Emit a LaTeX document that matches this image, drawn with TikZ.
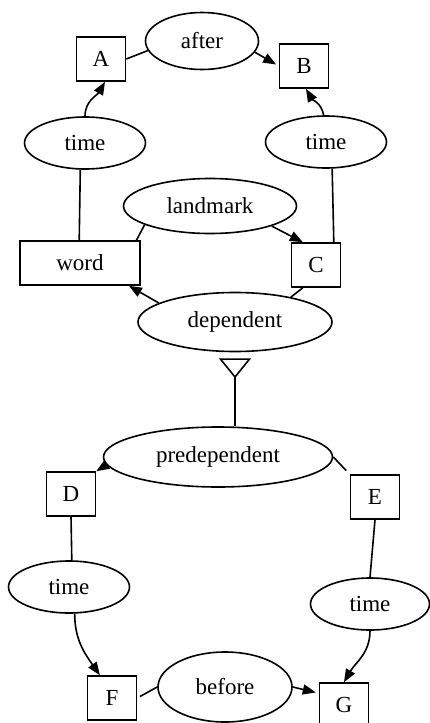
\documentclass[tikz,border=0pt]{standalone}
\usepackage{fontspec}
\setmainfont{Liberation Serif}
\usetikzlibrary{shapes.geometric,arrows.meta}

\begin{document}
\begin{tikzpicture}[x=1pt, y=1pt, line width=1.6pt,
    every node/.style={font=\fontsize{23}{27}\selectfont},
    box/.style={draw, rectangle, inner sep=0pt, minimum width=49pt, minimum height=44pt},
    ell/.style={draw, ellipse, inner sep=0pt, minimum width=121pt, minimum height=52pt},
    arr/.style={-{Triangle[length=13pt, width=10pt]}},
    isa/.style={-{Triangle[open, reversed, length=20pt, width=32pt]}, shorten >=6pt}]

    \useasboundingbox (0,0) rectangle (430,-723);

% upper part

    \node[box] (A) at (101,-59) {A};
    \node[ell, minimum width=113pt, minimum height=57pt] (after) at (202,-41) {after};
    \node[box] (B) at (304,-66) {B};
    \node[ell] (timeA) at (85,-143) {time};
    \node[ell] (timeB) at (326,-142) {time};
    \node[ell, minimum width=173pt, minimum height=55pt] (landmark) at (210,-206) {landmark};
    \node[box, minimum width=120pt] (word) at (80,-263) {word};
    \node[box] (C) at (316,-265) {C};
    \node[ell, minimum width=194pt, minimum height=59pt] (dep) at (235,-322) {dependent};

    \draw (A.east) -- (after.190);
    \draw[arr, shorten >=3pt] (after.-12) -- (B.west);
    \draw[arr] (timeA.north) to[out=90, in=240] (A.-80);
    \draw[arr] (timeB.95) to[out=100, in=-60] (B.-85);
    \draw (word.92) -- (timeA.-100);
    \draw (C.52) -- (timeB.-77);
    \draw (word.22) -- (landmark.196);
    \draw[arr] (landmark.-18) -- (C.120);
    \draw[arr] (dep.166) -- (word.-25);
    \draw (dep.24) -- (C.-120);

% lower part

    \node[ell, minimum width=229pt, minimum height=60pt] (predep) at (218,-457) {predependent};
    \node[box] (D) at (71,-494) {D};
    \node[box] (E) at (375,-497) {E};
    \node[ell] (timeD) at (69,-587) {time};
    \node[ell, minimum width=119pt] (timeE) at (370,-604) {time};
    \node[box] (F) at (112,-698) {F};
    \node[ell, minimum width=134pt, minimum height=70pt] (before) at (225,-687) {before};
    \node[box] (G) at (344,-705) {G};

    \draw[isa] (dep.south |- predep.north) -- (dep.south);
    \draw[arr] (predep.184) -- (D.north east);
    \draw[shorten >=5pt] (predep.east) -- (E.north west);
    \draw (D.south) -- (timeD.84);
    \draw (E.south) -- (timeE.north);
    \draw[arr] (timeD.-78) to[out=-90, in=125] (F.118);
    \draw[arr] (timeE.south) to[out=-90, in=60] (G.north);
    \draw[shorten <=3pt] (F.east) -- (before.west);
    \draw[arr, shorten >=3pt] (before.east) -- (G.155);

\end{tikzpicture}
\end{document}
